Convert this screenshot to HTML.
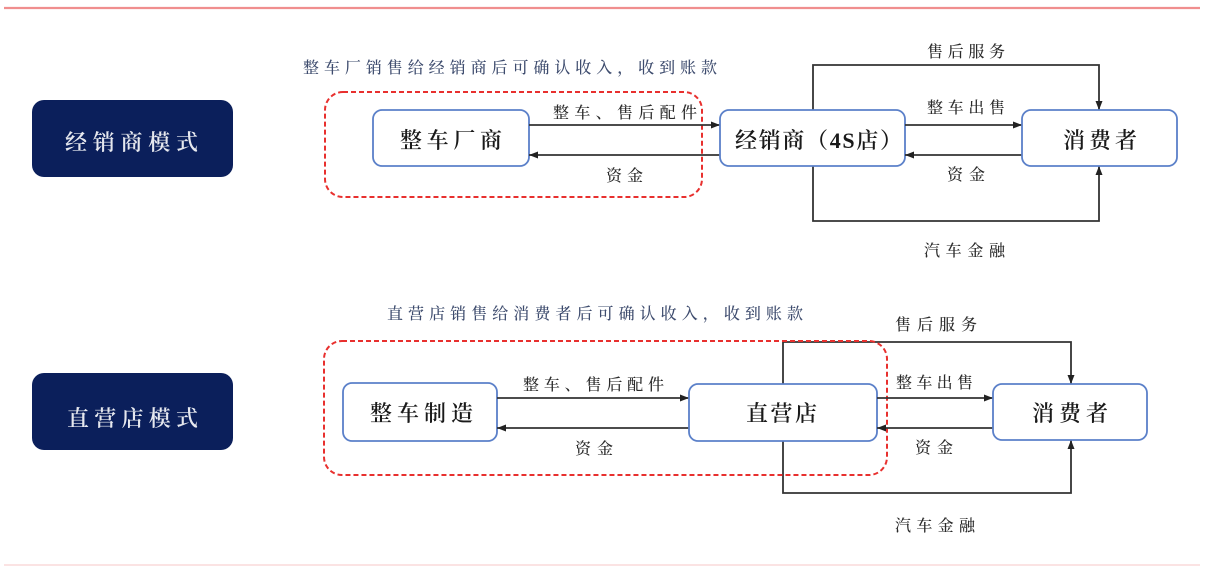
<!DOCTYPE html>
<html>
<head>
<meta charset="utf-8">
<style>
  html,body{margin:0;padding:0;background:#fff;}
  svg{display:block;}
  text{font-family:"Liberation Serif","Noto Serif CJK SC","Noto Sans CJK SC",serif;}
  .node{font-weight:600;}
  .lbl{font-weight:500;}
</style>
</head>
<body>
<svg width="1228" height="568" viewBox="0 0 1228 568" xmlns="http://www.w3.org/2000/svg">
  <defs>
    <marker id="ah" markerUnits="userSpaceOnUse" markerWidth="10" markerHeight="8" refX="9" refY="4" orient="auto">
      <path d="M0,0.5 L9,4 L0,7.5 Z" fill="#222"/>
    </marker>
  </defs>

  <!-- top / bottom rules -->
  <line x1="4" y1="8" x2="1200" y2="8" stroke="#f08e8e" stroke-width="2.2"/>
  <line x1="4" y1="565" x2="1200" y2="565" stroke="#fbe3e3" stroke-width="2"/>

  <!-- ============ Section 1 ============ -->
  <rect x="32" y="100" width="201" height="77" rx="12" fill="#0b1f5b"/>
  <text class="node" x="65" y="150" font-size="22" fill="#e6e8ee" textLength="133" lengthAdjust="spacing">经销商模式</text>

  <text class="lbl" x="303" y="73" font-size="16" fill="#3e4c6e" textLength="414" lengthAdjust="spacing">整车厂销售给经销商后可确认收入，收到账款</text>

  <rect x="325" y="92" width="377" height="105" rx="18" fill="none" stroke="#e8302e" stroke-width="2" stroke-dasharray="5 3"/>

  <rect x="373" y="110" width="156" height="56" rx="9" fill="#fff" stroke="#5b80c9" stroke-width="1.8"/>
  <text class="node" x="400" y="148" font-size="22" fill="#1a1a1a" textLength="102" lengthAdjust="spacing">整车厂商</text>

  <line x1="529" y1="125" x2="720" y2="125" stroke="#333" stroke-width="1.8" marker-end="url(#ah)"/>
  <line x1="720" y1="155" x2="529" y2="155" stroke="#333" stroke-width="1.8" marker-end="url(#ah)"/>
  <text class="lbl" x="553" y="118" font-size="16" fill="#2a2a2a" textLength="144" lengthAdjust="spacing">整车、售后配件</text>
  <text class="lbl" x="606" y="181" font-size="16" fill="#2a2a2a" textLength="37" lengthAdjust="spacing">资金</text>

  <!-- loops -->
  <polyline points="813,110 813,65 1099,65 1099,110" fill="none" stroke="#333" stroke-width="1.8" marker-end="url(#ah)"/>
  <polyline points="813,166 813,221 1099,221 1099,166" fill="none" stroke="#333" stroke-width="1.8" marker-end="url(#ah)"/>
  <text class="lbl" x="927" y="57" font-size="16" fill="#2a2a2a" textLength="78" lengthAdjust="spacing">售后服务</text>
  <text class="lbl" x="924" y="256" font-size="16" fill="#2a2a2a" textLength="81" lengthAdjust="spacing">汽车金融</text>

  <rect x="720" y="110" width="185" height="56" rx="9" fill="#fff" stroke="#5b80c9" stroke-width="1.8"/>
  <text class="node" x="735" y="148" font-size="22" fill="#1a1a1a" textLength="167" lengthAdjust="spacing">经销商（4S店）</text>

  <line x1="905" y1="125" x2="1022" y2="125" stroke="#333" stroke-width="1.8" marker-end="url(#ah)"/>
  <line x1="1022" y1="155" x2="905" y2="155" stroke="#333" stroke-width="1.8" marker-end="url(#ah)"/>
  <text class="lbl" x="927" y="113" font-size="16" fill="#2a2a2a" textLength="78" lengthAdjust="spacing">整车出售</text>
  <text class="lbl" x="947" y="180" font-size="16" fill="#2a2a2a" textLength="38" lengthAdjust="spacing">资金</text>

  <rect x="1022" y="110" width="155" height="56" rx="9" fill="#fff" stroke="#5b80c9" stroke-width="1.8"/>
  <text class="node" x="1063" y="148" font-size="22" fill="#1a1a1a" textLength="74" lengthAdjust="spacing">消费者</text>

  <!-- ============ Section 2 ============ -->
  <rect x="32" y="373" width="201" height="77" rx="12" fill="#0b1f5b"/>
  <text class="node" x="67" y="426" font-size="22" fill="#e6e8ee" textLength="131" lengthAdjust="spacing">直营店模式</text>

  <text class="lbl" x="387" y="319" font-size="16" fill="#3e4c6e" textLength="416" lengthAdjust="spacing">直营店销售给消费者后可确认收入，收到账款</text>

  <!-- loops -->
  <polyline points="783,384 783,342 1071,342 1071,384" fill="none" stroke="#333" stroke-width="1.8" marker-end="url(#ah)"/>
  <polyline points="783,441 783,493 1071,493 1071,440" fill="none" stroke="#333" stroke-width="1.8" marker-end="url(#ah)"/>
  <text class="lbl" x="895" y="330" font-size="16" fill="#2a2a2a" textLength="82" lengthAdjust="spacing">售后服务</text>
  <text class="lbl" x="895" y="531" font-size="16" fill="#2a2a2a" textLength="80" lengthAdjust="spacing">汽车金融</text>

  <rect x="324" y="341" width="563" height="134" rx="18" fill="none" stroke="#e8302e" stroke-width="2" stroke-dasharray="5 3"/>

  <rect x="343" y="383" width="154" height="58" rx="9" fill="#fff" stroke="#5b80c9" stroke-width="1.8"/>
  <text class="node" x="370" y="421" font-size="22" fill="#1a1a1a" textLength="103" lengthAdjust="spacing">整车制造</text>

  <line x1="497" y1="398" x2="689" y2="398" stroke="#333" stroke-width="1.8" marker-end="url(#ah)"/>
  <line x1="689" y1="428" x2="497" y2="428" stroke="#333" stroke-width="1.8" marker-end="url(#ah)"/>
  <text class="lbl" x="523" y="390" font-size="16" fill="#2a2a2a" textLength="141" lengthAdjust="spacing">整车、售后配件</text>
  <text class="lbl" x="575" y="454" font-size="16" fill="#2a2a2a" textLength="38" lengthAdjust="spacing">资金</text>

  <rect x="689" y="384" width="188" height="57" rx="9" fill="#fff" stroke="#5b80c9" stroke-width="1.8"/>
  <text class="node" x="746" y="421" font-size="22" fill="#1a1a1a" textLength="71" lengthAdjust="spacing">直营店</text>

  <line x1="877" y1="398" x2="993" y2="398" stroke="#333" stroke-width="1.8" marker-end="url(#ah)"/>
  <line x1="993" y1="428" x2="877" y2="428" stroke="#333" stroke-width="1.8" marker-end="url(#ah)"/>
  <text class="lbl" x="896" y="388" font-size="16" fill="#2a2a2a" textLength="77" lengthAdjust="spacing">整车出售</text>
  <text class="lbl" x="915" y="453" font-size="16" fill="#2a2a2a" textLength="38" lengthAdjust="spacing">资金</text>

  <rect x="993" y="384" width="154" height="56" rx="9" fill="#fff" stroke="#5b80c9" stroke-width="1.8"/>
  <text class="node" x="1032" y="421" font-size="22" fill="#1a1a1a" textLength="76" lengthAdjust="spacing">消费者</text>
</svg>
</body>
</html>
